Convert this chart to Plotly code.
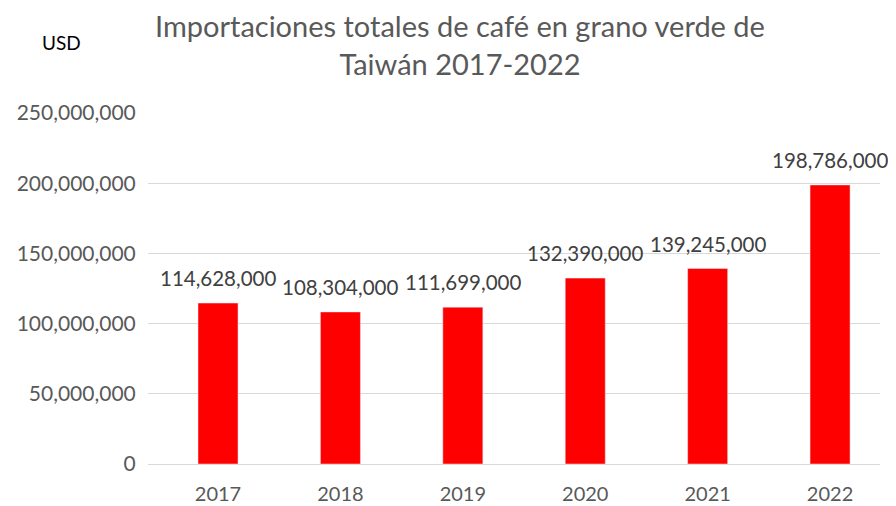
import plotly.graph_objects as go

years = ['2017', '2018', '2019', '2020', '2021', '2022']
imports_usd = [114628000, 108304000, 111699000, 132390000, 139245000, 198786000]
y_ticks = [0, 50000000, 100000000, 150000000, 200000000, 250000000]
y_tick_labels = ['0', '50,000,000', '100,000,000', '150,000,000', '200,000,000', '250,000,000']

font = 'Lato, Calibri, sans-serif'

fig = go.Figure(go.Bar(
    x=years, y=imports_usd,
    marker_color='#ff0000',
))

# data labels above each bar (category index, since '2017' would be read as a number)
for i, v in enumerate(imports_usd):
    fig.add_annotation(x=i, y=v, text=f'{v:,}', showarrow=False,
                       yanchor='middle', yshift=25,
                       font=dict(size=20.5, color='#404040', family=font))

# page body has an 8px margin, so the figure is 8px smaller than the window
fig.update_layout(
    width=888, height=498,
    margin=dict(l=140, r=16, t=105, b=42),
    plot_bgcolor='white', paper_bgcolor='white',
    bargap=0.673,
    showlegend=False,
    font=dict(family=font, color='#595959'),
)
fig.add_annotation(text='Importaciones totales de café en grano verde de<br>Taiwán 2017-2022',
                   xref='paper', yref='paper', x=(452 - 140) / 732, y=1, yshift=69,
                   xanchor='center', yanchor='middle', showarrow=False,
                   font=dict(size=29, color='#595959', family=font))
fig.add_annotation(text='USD', xref='paper', yref='paper', x=(32 - 140) / 732,
                   y=1, yshift=71, xanchor='left', yanchor='middle', showarrow=False,
                   font=dict(size=19, color='black', family=font))

fig.update_yaxes(range=[0, 250000000], tickvals=y_ticks, ticktext=y_tick_labels,
                 automargin=False,
                 showgrid=True, gridcolor='#d9d9d9', gridwidth=1,
                 zeroline=False, showline=False,
                 ticks='outside', ticklen=7, tickcolor='rgba(0,0,0,0)',
                 tickfont=dict(size=21, color='#595959'))
fig.update_xaxes(type='category', range=[-0.572, 5.408], automargin=False,
                 showline=True, linecolor='#d9d9d9', linewidth=1,
                 ticks='outside', ticklen=12, tickcolor='rgba(0,0,0,0)',
                 tickfont=dict(size=20, color='#595959'))

fig.write_html('out.html', config={'displayModeBar': False})
